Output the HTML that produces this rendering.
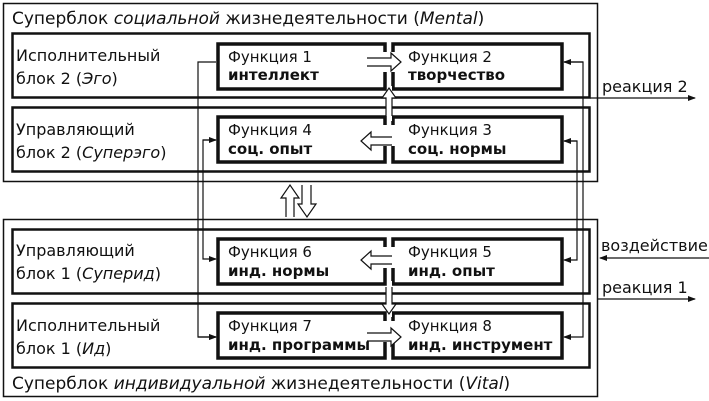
<!DOCTYPE html>
<html><head><meta charset="utf-8"><style>
html,body{margin:0;padding:0;background:#fff;width:709px;height:401px;overflow:hidden}
svg{display:block}
text{font-family:"DejaVu Sans","Liberation Sans",sans-serif;fill:#111}
.t{font-size:17px}.l{font-size:16px}.f{font-size:15px}.b{font-size:15px;font-weight:bold}
</style></head><body>
<svg width="709" height="401" viewBox="0 0 709 401" xmlns="http://www.w3.org/2000/svg">
<defs>
<marker id="a" markerWidth="8" markerHeight="6" refX="7" refY="3" orient="auto" markerUnits="userSpaceOnUse"><path d="M0,0 L8,3 L0,6 z" fill="#111"/></marker>
</defs>
<g fill="none" stroke="#111">
<!-- outer superblocks -->
<rect x="3.5" y="3.5" width="594" height="178" stroke-width="1.5"/>
<rect x="3.5" y="219.5" width="594" height="177" stroke-width="1.5"/>
<!-- row blocks -->
<rect x="12.5" y="33.5" width="577" height="64" stroke-width="2.5"/>
<rect x="12.5" y="107.5" width="577" height="64" stroke-width="2.5"/>
<rect x="12.5" y="229.5" width="577" height="64" stroke-width="2.5"/>
<rect x="12.5" y="303.5" width="577" height="64" stroke-width="2.5"/>
<!-- function boxes -->
<g stroke-width="3.5">
<rect x="218" y="44" width="167" height="45"/><rect x="393" y="44" width="169" height="45"/>
<rect x="218" y="117" width="167" height="45"/><rect x="393" y="117" width="169" height="45"/>
<rect x="218" y="239" width="167" height="45"/><rect x="393" y="239" width="169" height="45"/>
<rect x="218" y="313" width="167" height="45"/><rect x="393" y="313" width="169" height="45"/>
</g>
</g>
<!-- gaps -->
<g fill="#fff">
<rect x="381" y="52" width="16" height="20"/><rect x="381" y="125" width="16" height="21"/>
<rect x="381" y="247" width="16" height="21"/><rect x="381" y="321" width="16" height="21"/>
<rect x="387" y="86" width="5" height="35"/><rect x="387" y="281" width="5" height="36"/>
</g>
<!-- connectors -->
<g fill="none" stroke="#111" stroke-width="1.2">
<path d="M216,62 H198 V337 H216" marker-end="url(#a)"/>
<path d="M198,337 H216" marker-end="url(#a)"/>
<path d="M216,140 H203 V259 H216" marker-end="url(#a)"/>
<path d="M203,140 H216" marker-end="url(#a)"/>
<path d="M564,62 H583 V337 H564" marker-end="url(#a)"/>
<path d="M583,62 H564" marker-end="url(#a)"/>
<path d="M564,141 H577 V260 H564" marker-end="url(#a)"/>
<path d="M577,141 H564" marker-end="url(#a)"/>
<path d="M590,98 H695" marker-end="url(#a)"/>
<path d="M598,299 H695" marker-end="url(#a)"/>
<path d="M709,258 H600" marker-end="url(#a)"/>
</g>
<!-- hollow arrows -->
<g fill="#fff" stroke="#111" stroke-width="1.2">
<path d="M367,58 H391 V53 L401,62 L391,71 V66 H367"/>
<path d="M392,137 H371 V132 L361,141 L371,150 V145 H392"/>
<path d="M392,256 H371 V251 L361,260 L371,269 V264 H392"/>
<path d="M367,333 H391 V328 L401,337 L391,346 V341 H367"/>
<path d="M386,116 V98 H382 L389,88 L396,98 H392 V116"/>
<path d="M386,287 V304 H382 L389,314 L396,304 H392 V287"/>
<path d="M286,217 V198 H281 L290,185 L299,198 H294 V217"/>
<path d="M302,185 V204 H298 L307,217 L316,204 H311 V185"/>
</g>
<!-- text -->
<text class="t" x="12" y="24">Суперблок <tspan font-style="italic">социальной</tspan> жизнедеятельности (<tspan font-style="italic">Mental</tspan>)</text>
<text class="t" x="12" y="389">Суперблок <tspan font-style="italic">индивидуальной</tspan> жизнедеятельности (<tspan font-style="italic">Vital</tspan>)</text>
<text class="l" x="16" y="61">Исполнительный</text>
<text class="l" x="16" y="84">блок 2 (<tspan font-style="italic">Эго</tspan>)</text>
<text class="l" x="16" y="135">Управляющий</text>
<text class="l" x="16" y="158">блок 2 (<tspan font-style="italic">Суперэго</tspan>)</text>
<text class="l" x="16" y="256">Управляющий</text>
<text class="l" x="16" y="279">блок 1 (<tspan font-style="italic">Суперид</tspan>)</text>
<text class="l" x="16" y="331">Исполнительный</text>
<text class="l" x="16" y="354">блок 1 (<tspan font-style="italic">Ид</tspan>)</text>
<text class="f" x="228" y="62">Функция 1</text><text class="b" x="228" y="80">интеллект</text>
<text class="f" x="408" y="62">Функция 2</text><text class="b" x="408" y="80">творчество</text>
<text class="f" x="228" y="135">Функция 4</text><text class="b" x="228" y="154">соц. опыт</text>
<text class="f" x="408" y="135">Функция 3</text><text class="b" x="408" y="154">соц. нормы</text>
<text class="f" x="228" y="257">Функция 6</text><text class="b" x="228" y="276">инд. нормы</text>
<text class="f" x="408" y="257">Функция 5</text><text class="b" x="408" y="276">инд. опыт</text>
<text class="f" x="228" y="331">Функция 7</text><text class="b" x="228" y="350">инд. программы</text>
<text class="f" x="408" y="331">Функция 8</text><text class="b" x="408" y="350">инд. инструмент</text>
<text class="l" x="602" y="92">реакция 2</text>
<text class="l" x="601" y="251">воздействие</text>
<text class="l" x="602" y="293">реакция 1</text>
</svg>
</body></html>
